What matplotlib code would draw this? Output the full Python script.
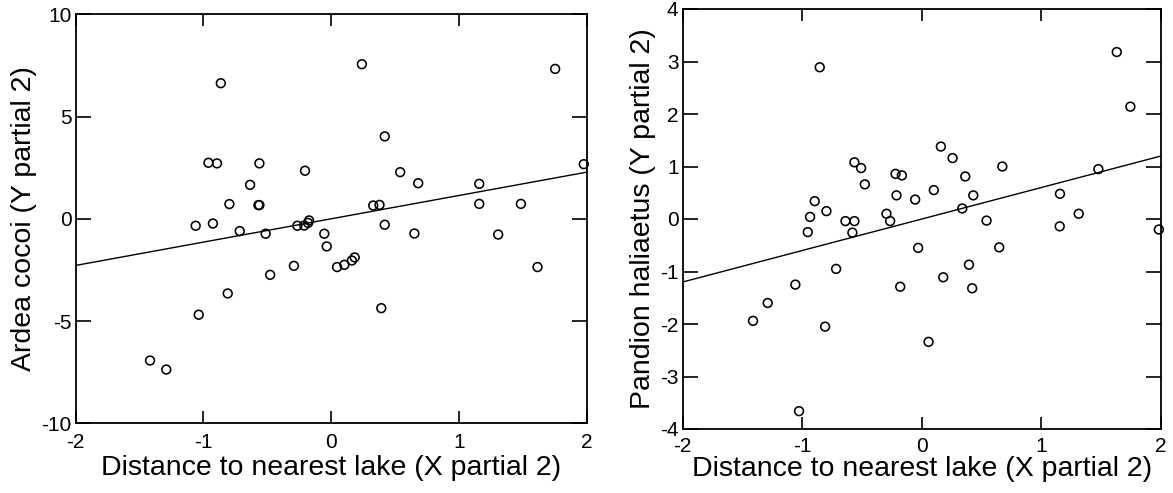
import matplotlib
matplotlib.use("Agg")
import matplotlib.pyplot as plt
import numpy as np

plt.rcParams['font.family'] = ['Liberation Sans', 'DejaVu Sans']
plt.rcParams['axes.unicode_minus'] = False

# X partial values (shared by both panels)
x_left = [0.24, 1.753, -0.864, 0.419, -0.961, -0.894, -0.562, -0.205, 0.540, 1.977,
          -0.635, 0.681, 1.159, -0.797, -0.570, -0.562, 0.329, 0.378, 1.159, 1.485,
          -1.061, -0.926, -0.716, -0.513, -0.265, -0.211, -0.173, -0.054, 0.419, 0.651,
          1.307, -0.035, -0.292, -0.478, 0.046, 0.103, 0.162, 0.184, 1.615, -0.810,
          -1.037, 0.392, -1.418, -1.291, -0.181]
y_ardea = [7.56, 7.33, 6.63, 4.03, 2.74, 2.71, 2.71, 2.35, 2.28, 2.67,
           1.66, 1.74, 1.71, 0.72, 0.67, 0.67, 0.65, 0.68, 0.73, 0.73,
           -0.34, -0.23, -0.60, -0.73, -0.34, -0.33, -0.08, -0.73, -0.29, -0.72,
           -0.77, -1.35, -2.30, -2.74, -2.36, -2.25, -2.04, -1.89, -2.36, -3.65,
           -4.69, -4.37, -6.93, -7.37, -0.20]

x_right = [1.630, -0.854, 1.744, 0.159, 0.257, -0.564, -0.508, 0.673, 1.476, -0.220,
           -0.167, 0.363, -0.477, 0.100, -0.212, 0.430, 1.155, -0.056, -0.896, -0.798,
           -0.935, -0.296, 0.338, 1.312, -0.639, -0.564, -0.265, 0.541, 1.153, 1.982,
           -0.954, -0.581, -0.031, 0.647, -0.717, 0.394, 0.179, -0.181, 0.421, -1.058,
           -1.289, -1.412, -0.809, 0.056, -1.027]
y_pandion = [3.18, 2.89, 2.14, 1.38, 1.16, 1.08, 0.97, 1.00, 0.95, 0.86,
             0.83, 0.81, 0.66, 0.55, 0.45, 0.45, 0.48, 0.37, 0.34, 0.15,
             0.04, 0.10, 0.20, 0.10, -0.04, -0.04, -0.04, -0.03, -0.14, -0.20,
             -0.25, -0.26, -0.55, -0.54, -0.95, -0.87, -1.11, -1.29, -1.32, -1.25,
             -1.60, -1.94, -2.05, -2.34, -3.66]

# fitted lines (slope, intercept)
fit_ardea = (1.14, 0.0)
fit_pandion = (0.60, 0.0)

x_ticks = [-2, -1, 0, 1, 2]
y_ticks_left = [-10, -5, 0, 5, 10]
y_ticks_right = [-4, -3, -2, -1, 0, 1, 2, 3, 4]

x_label = "Distance to nearest lake (X partial 2)"
y_label_left = "Ardea cocoi (Y partial 2)"
y_label_right = "Pandion haliaetus (Y partial 2)"

fig = plt.figure(figsize=(11.73, 4.93), dpi=100)
W, H = 1173, 493

def make_ax(x0, x1, ytop, ybot):
    return fig.add_axes([x0 / W, (H - ybot) / H, (x1 - x0) / W, (ybot - ytop) / H])

ax1 = make_ax(75.7, 586.7, 14.3, 423.3)
ax2 = make_ax(682.7, 1161, 9, 429)

def style(ax, xs, ys, fit, yticks, ylabel, ylabelpad, xpad, xlabelpad):
    ax.scatter(xs, ys, s=40, facecolors='none', edgecolors='black', linewidths=1.15,
               clip_on=False, zorder=3)
    xl = np.array([x_ticks[0], x_ticks[-1]])
    ax.plot(xl, fit[0] * xl + fit[1], color='black', lw=1.0)
    ax.set_xlim(x_ticks[0], x_ticks[-1])
    ax.set_ylim(yticks[0], yticks[-1])
    ax.set_xticks(x_ticks)
    ax.set_yticks(yticks)
    ax.tick_params(axis='both', direction='in', top=True, right=True,
                   labelsize=15, width=1.2, color='black')
    ax.tick_params(axis='y', length=11, pad=3)
    ax.tick_params(axis='x', length=8.5, pad=xpad)
    for sp in ax.spines.values():
        sp.set_linewidth(1.3)
    ax.set_xlabel(x_label, fontsize=20.5, labelpad=xlabelpad)
    ax.set_ylabel(ylabel, fontsize=20.5, labelpad=ylabelpad)

style(ax1, x_left, y_ardea, fit_ardea, y_ticks_left, y_label_left, 3, 7, 2)
style(ax2, x_right, y_pandion, fit_pandion, y_ticks_right, y_label_right, 3, 6, 0)

fig.savefig("out.png", dpi=100)
